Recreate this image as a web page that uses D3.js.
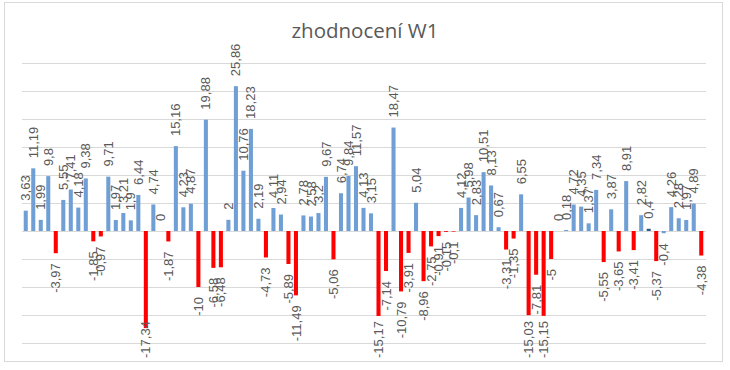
<!DOCTYPE html>
<html>
<head>
<meta charset="utf-8">
<script src="https://cdn.jsdelivr.net/npm/d3@7"></script>
<style>
  body { margin: 0; background: #fff; }
  svg { display: block; }
</style>
</head>
<body>
<svg width="730" height="370"></svg>
<script>
const svg = d3.select("svg");

const title = "zhodnocení W1";
const values = [
  3.63, 11.19, 1.99, 9.8, -3.97, 5.55, 7.41, 4.18, 9.38, -1.85,
  -0.97, 9.71, 1.97, 3.21, 1.9, 6.44, -17.34, 4.74, 0, -1.87,
  15.16, 4.23, 4.87, -10, 19.88, -6.58, -6.48, 2, 25.86, 10.76,
  18.23, 2.19, -4.73, 4.11, 2.94, -5.89, -11.49, 2.78, 2.58, 3.2,
  9.67, -5.06, 6.74, 9.84, 11.57, 4.13, 3.15, -15.17, -7.14, 18.47,
  -10.79, -3.91, 5.04, -8.96, -2.75, -0.91, -0.15, -0.1, 4.12, 5.98,
  2.83, 10.51, 8.13, 0.67, -3.31, -1.35, 6.55, -15.03, -7.81, -15.15,
  -5, 0, 0.18, 4.72, 4.35, 1.37, 7.34, -5.55, 3.87, -3.65,
  8.91, -3.41, 2.82, 0.4, -5.37, -0.4, 4.26, 2.28, 1.97, 4.89,
  -4.38
];
const yTicks = [-20, -15, -10, -5, 0, 5, 10, 15, 20, 25, 30];

const fmt = v => String(v).replace(".", ",");

// border
svg.append("rect")
  .attr("x", 4.5).attr("y", 2.5)
  .attr("width", 718).attr("height", 359)
  .attr("fill", "#fff")
  .attr("stroke", "#d9d9d9");

svg.append("text")
  .attr("x", 365).attr("y", 38)
  .attr("text-anchor", "middle")
  .style("font-family", "'Open Sans', sans-serif")
  .style("font-size", "20.5px")
  .style("fill", "#595959")
  .text(title);

const x = d3.scaleBand()
  .domain(d3.range(values.length))
  .range([22, 705])
  .paddingInner(0.46)
  .paddingOuter(0.23);

const y = d3.scaleLinear()
  .domain([-20, 30])
  .range([343, 63]);

// gridlines
svg.append("g")
  .selectAll("line")
  .data(yTicks)
  .enter()
  .append("line")
  .attr("x1", 22).attr("x2", 706)
  .attr("y1", d => Math.round(y(d)) + 0.5)
  .attr("y2", d => Math.round(y(d)) + 0.5)
  .attr("stroke", "#d9d9d9");

// colours: negative red, with two odd points like in the sheet
const darkIdx = 83, blueNegIdx = 85;
const barColor = (d, i) => {
  if (i === darkIdx) return "#2f5b8c";
  if (i === blueNegIdx) return "#6f9fd4";
  return d < 0 ? "#ff0000" : "#6f9fd4";
};

svg.append("g")
  .selectAll("rect")
  .data(values)
  .enter()
  .append("rect")
  .attr("x", (d, i) => x(i))
  .attr("width", x.bandwidth())
  .attr("y", d => y(Math.max(0, d)))
  .attr("height", d => Math.abs(y(d) - y(0)))
  .attr("fill", barColor);

// labels, rotated
const labels = svg.append("g")
  .selectAll("text")
  .data(values)
  .enter()
  .append("text")
  .style("font-family", "'Liberation Sans', Arial, sans-serif")
  .style("font-size", "13px")
  .style("fill", "#595959")
  .attr("dy", "0.35em")
  .text(d => fmt(d));

const gap = 10, bottomLimit = 358;
labels.each(function(d, i) {
  const len = this.getComputedTextLength();
  const cx = x(i) + x.bandwidth() / 2;
  let start, anchor;
  if (d >= 0) {
    start = y(d) - gap;              // text runs upward from here
    anchor = "start";
  } else {
    start = y(d) + gap;              // text runs downward
    if (start + len > bottomLimit) start = bottomLimit - len;
    anchor = "end";
  }
  d3.select(this)
    .attr("text-anchor", anchor)
    .attr("transform", `translate(${cx},${start}) rotate(-90)`);
});
</script>
</body>
</html>
